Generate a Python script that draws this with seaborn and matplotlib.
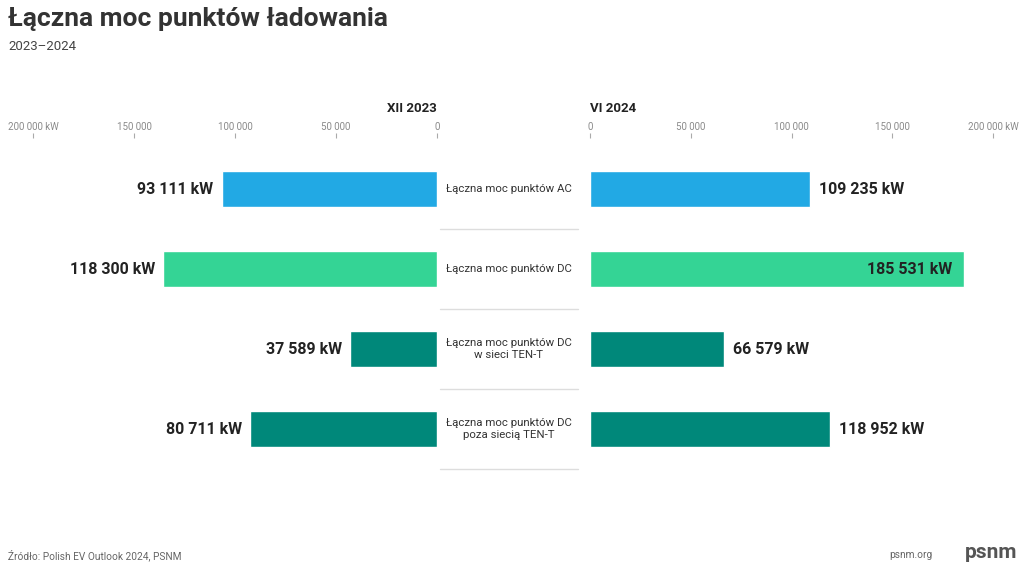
import matplotlib.pyplot as plt
import seaborn as sns

sns.set_style("white")
plt.rcParams['font.family'] = ['Roboto', 'DejaVu Sans']

categories = [
    "Łączna moc punktów AC",
    "Łączna moc punktów DC",
    "Łączna moc punktów DC\nw sieci TEN-T",
    "Łączna moc punktów DC\npoza siecią TEN-T",
]
values_2023 = [93111, 118300, 37589, 80711]
values_2024 = [109235, 185531, 66579, 118952]
colors = ["#22a9e4", "#34d495", "#00887a", "#00887a"]
ticks = [0, 50000, 100000, 150000, 200000]
tick_labels = ["0", "50 000", "100 000", "150 000", "200 000 kW"]

# the reference draws the 2023 bars ~14.5% longer than its own axis
LEFT_STRETCH = 1.145


def fmt(v):
    return f"{v:,}".replace(",", " ") + " kW"


fig = plt.figure(figsize=(10.24, 5.69), dpi=100)
W, H = 1024, 569
top_px, bot_px = 138, 469
ax_l = fig.add_axes([15 / W, 1 - bot_px / H, 422 / W, (bot_px - top_px) / H])
ax_r = fig.add_axes([590 / W, 1 - bot_px / H, 420 / W, (bot_px - top_px) / H])
ax_m = fig.add_axes([440 / W, 1 - bot_px / H, 138 / W, (bot_px - top_px) / H])

ylim = (3.5, -0.6375)

sns.barplot(x=values_2023, y=categories, hue=categories, palette=colors,
            legend=False, orient="h", width=0.45, ax=ax_l, saturation=1)
sns.barplot(x=values_2024, y=categories, hue=categories, palette=colors,
            legend=False, orient="h", width=0.45, ax=ax_r, saturation=1)

ax_l.set_xlim(182450, 0)
ax_r.set_xlim(0, 208400)
ax_l.set_xticks([t / LEFT_STRETCH for t in ticks])
ax_r.set_xticks(ticks)

for ax in (ax_l, ax_r):
    ax.set_ylim(*ylim)
    ax.set_xticklabels(tick_labels)
    ax.xaxis.tick_top()
    ax.tick_params(axis="x", length=3.6, width=0.8, color="#aaaaaa",
                   labelsize=7, labelcolor="#8a8a8a", pad=1)
    ax.set_yticks([])
    ax.set_xlabel("")
    ax.set_ylabel("")
    for s in ax.spines.values():
        s.set_visible(False)

label_kw = dict(fontsize=11.5, fontweight="bold", color="#222222", va="center")
for i, v in enumerate(values_2023):
    ax_l.text(v + 3500, i, fmt(v), ha="right", **label_kw)
for i, v in enumerate(values_2024):
    if v > 150000:
        ax_r.text(v - 6000, i, fmt(v), ha="right", **label_kw)
    else:
        ax_r.text(v + 4500, i, fmt(v), ha="left", **label_kw)

ax_m.set_xlim(0, 1)
ax_m.set_ylim(*ylim)
ax_m.axis("off")
for i, c in enumerate(categories):
    ax_m.text(0.5, i, c, ha="center", va="center", fontsize=8.2,
              color="#333333", linespacing=1.2)
    ax_m.plot([0, 1], [i + 0.5, i + 0.5], color="#dddddd", lw=1, clip_on=False)

fig.text(437 / W, 1 - 108 / H, "XII 2023", ha="right", va="center",
         fontsize=9.5, fontweight="bold", color="#222222")
fig.text(590 / W, 1 - 108 / H, "VI 2024", ha="left", va="center",
         fontsize=9.5, fontweight="bold", color="#222222")

fig.text(8 / W, 1 - 19 / H, "Łączna moc punktów ładowania", ha="left", va="center",
         fontsize=19, fontweight="bold", color="#333333")
fig.text(8 / W, 1 - 47 / H, "2023–2024", ha="left", va="center",
         fontsize=9.5, color="#444444")

fig.text(8 / W, 1 - 555 / H, "Źródło: Polish EV Outlook 2024, PSNM", ha="left",
         va="center", fontsize=7.3, color="#666666")
fig.text(932 / W, 1 - 555 / H, "psnm.org", ha="right", va="center",
         fontsize=7.3, color="#666666")
fig.text(1017 / W, 1 - 553 / H, "psnm", ha="right", va="center",
         fontsize=15, fontweight="bold", color="#555555")

fig.savefig("out.png", dpi=100)
